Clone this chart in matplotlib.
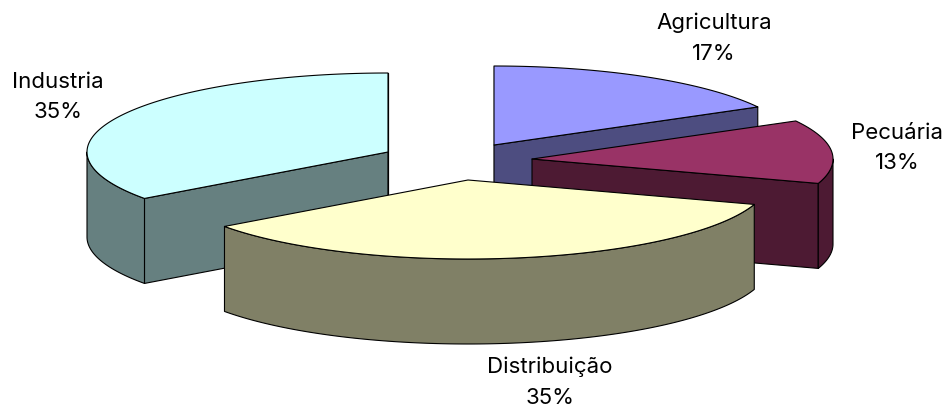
"""
Exploded 3D pie of sector shares, drawn as projected ellipses with polygons.
"""
import numpy as np
import matplotlib
matplotlib.use("Agg")
import matplotlib.pyplot as plt
from matplotlib.patches import Polygon

names = ["Agricultura", "Pecuária", "Distribuição", "Industria"]
shares = [17, 13, 35, 35]

# pie apex of each slice after the explosion, in figure pixels
apex_x = [494, 532, 468, 388]
apex_y = [145, 159, 180, 152]
top_colors = ["#9999FF", "#993366", "#FFFFCC", "#CCFFFF"]
side_colors = ["#4D4D80", "#4D1A33", "#808066", "#668080"]

label_x = [714, 897, 550, 58]
label_y = [38, 148, 382, 97]

rx, ry = 301, 79
depth = 85
edge = dict(edgecolor="black", linewidth=0.8, joinstyle="round")

fig = plt.figure(figsize=(9.5, 4.11), dpi=100)
ax = fig.add_axes([0, 0, 1, 1])
ax.set_xlim(0, 950)
ax.set_ylim(411, 0)
ax.axis("off")


def rim(cx, cy, a0, a1):
    t = np.radians(np.linspace(a0, a1, max(int(abs(a1 - a0)) * 2, 2)))
    return np.column_stack([cx + rx * np.sin(t), cy - ry * np.cos(t)])


def wall(pts, color, z):
    low = pts[::-1] + [0, depth]
    ax.add_patch(Polygon(np.vstack([pts, low]), facecolor=color, zorder=z, **edge))


ends = np.cumsum(shares) * 3.6
starts = ends - np.array(shares) * 3.6

# back slices first, Distribuição sits in front of everything
for z, i in enumerate([0, 1, 3, 2]):
    cx, cy = apex_x[i], apex_y[i]
    a0, a1 = starts[i], ends[i]
    base = z * 10 + 1
    for a in (a0, a1):
        # a cut face shows only if its normal points at the viewer
        normal = a + 90 if a == a1 else a - 90
        if np.cos(np.radians(normal)) < 1e-6:
            pts = np.vstack([[cx, cy], rim(cx, cy, a, a)[:1]])
            wall(pts, side_colors[i], base)
    lo, hi = max(a0, 90), min(a1, 270)
    if hi > lo:
        wall(rim(cx, cy, lo, hi), side_colors[i], base + 1)
    top = np.vstack([[cx, cy], rim(cx, cy, a0, a1)])
    ax.add_patch(Polygon(top, facecolor=top_colors[i], zorder=base + 2, **edge))

for name, share, x, y in zip(names, shares, label_x, label_y):
    ax.text(x, y, f"{name}\n{share}%", ha="center", va="center", fontsize=16,
            family=["Inter", "Liberation Sans"], color="black", linespacing=1.68,
            zorder=100)

fig.savefig("out.png", dpi=100, facecolor="white")
